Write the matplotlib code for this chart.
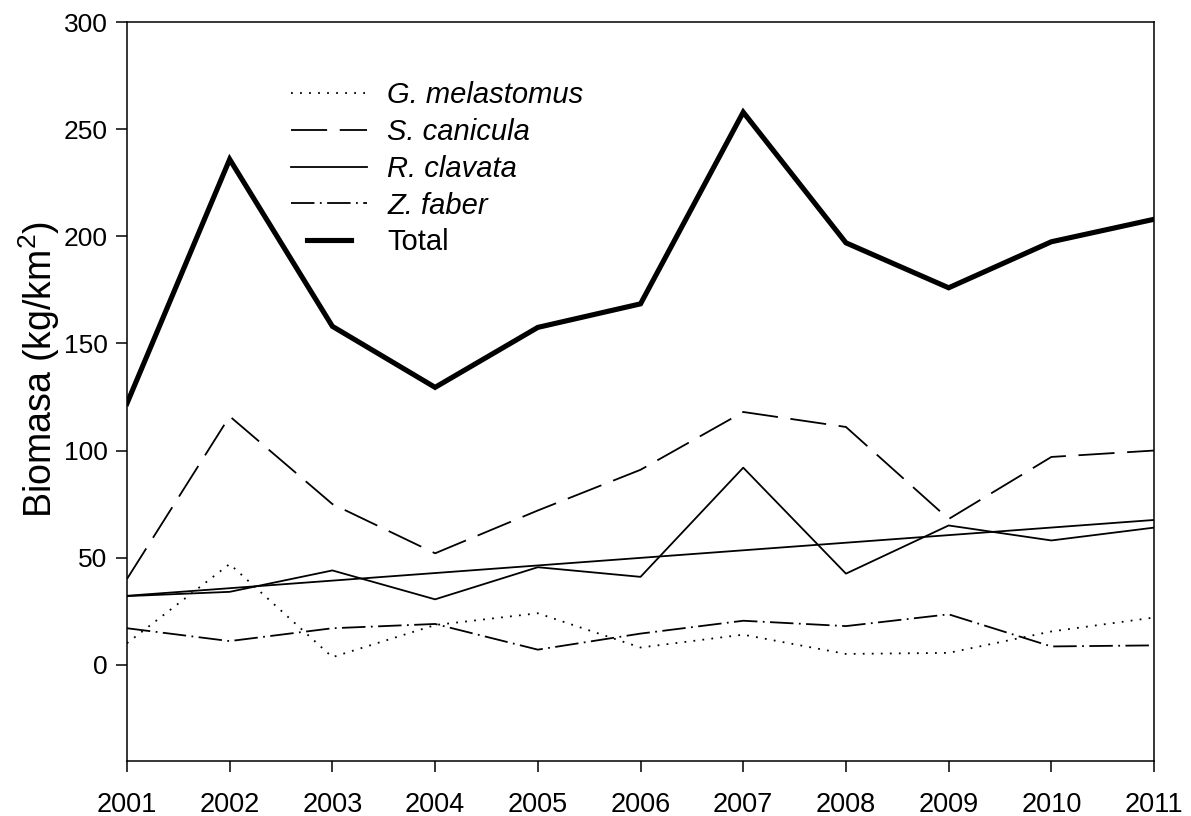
import matplotlib
matplotlib.use("Agg")
import matplotlib.pyplot as plt
import numpy as np
from matplotlib.legend_handler import HandlerLine2D

plt.rcParams['font.family'] = ['Liberation Sans', 'DejaVu Sans']
plt.rcParams['mathtext.default'] = 'regular'

years = [2001, 2002, 2003, 2004, 2005, 2006, 2007, 2008, 2009, 2010, 2011]
g_melastomus = [10, 47, 3.5, 18.5, 24, 8, 14, 5, 5.5, 15.5, 22]
s_canicula = [40, 116, 75, 52, 72, 91, 118, 111, 68, 97, 100]
r_clavata = [32, 34, 44, 30.5, 45.5, 41, 92, 42.5, 65, 58, 64]
z_faber = [17, 11, 17, 19, 7, 14.5, 20.5, 18, 23.5, 8.5, 9]
total = [122, 236, 158, 129.5, 157.5, 168.5, 258, 197, 176, 197.5, 208]


class ShortLine(HandlerLine2D):
    # shorter handle for the Total entry
    def create_artists(self, legend, orig_handle, xdescent, ydescent,
                       width, height, fontsize, trans):
        arts = super().create_artists(legend, orig_handle, xdescent, ydescent,
                                      width, height, fontsize, trans)
        for a in arts:
            xd = np.asarray(a.get_xdata(), dtype=float)
            c = xd.mean()
            a.set_xdata(c + (xd - c) * 0.58)
        return arts


fig = plt.figure(figsize=(11.91, 8.16), dpi=100)
ax = fig.add_axes([0.1066, 0.0674, 0.8624, 0.9053])

lw = 1.3
ax.plot(years, g_melastomus, color='black', lw=lw, linestyle=(0, (1, 4)),
        label='G. melastomus')
ax.plot(years, s_canicula, color='black', lw=lw, linestyle=(0, (20, 7)),
        label='S. canicula')
ax.plot(years, r_clavata, color='black', lw=lw, linestyle='-',
        label='R. clavata')
ax.plot(years, z_faber, color='black', lw=lw, linestyle=(0, (13, 3, 1, 3)),
        label='Z. faber')
tot, = ax.plot(years, total, color='black', lw=3.7, linestyle='-',
               solid_joinstyle='miter', label='Total')

# linear trend of R. clavata
k, b = np.polyfit(years, r_clavata, 1)
yr = np.array([years[0], years[-1]])
ax.plot(yr, k * yr + b, color='black', lw=lw)

ax.set_xlim(2001, 2011)
ax.set_ylim(-45, 300)
ax.set_xticks(years)
ax.set_yticks([0, 50, 100, 150, 200, 250, 300])
ax.tick_params(direction='out', length=8, width=1.1, labelsize=19, pad=6)
ax.tick_params(axis='x', labelsize=19.5, pad=14)
ax.tick_params(top=False, right=False)
for s in ax.spines.values():
    s.set_linewidth(1.1)

ax.set_ylabel('Biomasa (kg/km$^2$)', fontsize=27, labelpad=1)
ax.yaxis.label.set_y(0.53)

leg = ax.legend(loc='upper left', bbox_to_anchor=(0.1597, 0.92),
                frameon=False, fontsize=21, handlelength=2.6,
                handletextpad=0.7, labelspacing=0.3, borderpad=0,
                borderaxespad=0, handler_map={tot: ShortLine()})
for t in leg.get_texts()[:4]:
    t.set_style('italic')

fig.savefig('out.png', dpi=100)
